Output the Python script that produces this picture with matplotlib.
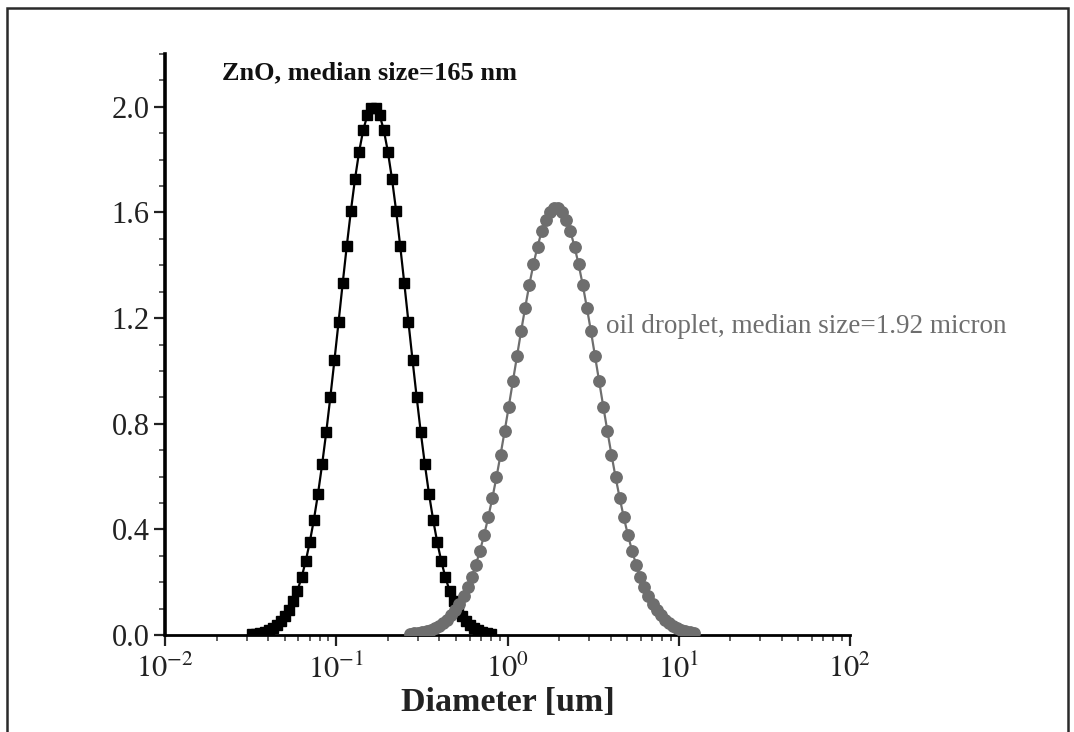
import math
import matplotlib
matplotlib.use('Agg')
import matplotlib.pyplot as plt
from matplotlib.ticker import FixedLocator, MultipleLocator, LogLocator, FuncFormatter, NullFormatter
from matplotlib.patches import Rectangle

# ---------------- data ----------------
zno_diameter_um = [
    0.03232, 0.03416, 0.03610, 0.03815, 0.04032, 0.04261, 0.04503, 0.04759, 0.05029, 0.05315,
    0.05617, 0.05936, 0.06273, 0.06630, 0.07006, 0.07405, 0.07825, 0.08270, 0.08740, 0.09237,
    0.09761, 0.1032, 0.1090, 0.1152, 0.1218, 0.1287, 0.1360, 0.1437, 0.1519, 0.1605,
    0.1696, 0.1793, 0.1895, 0.2002, 0.2116, 0.2236, 0.2363, 0.2497, 0.2639, 0.2789,
    0.2948, 0.3115, 0.3292, 0.3479, 0.3677, 0.3886, 0.4107, 0.4340, 0.4587, 0.4847,
    0.5123, 0.5414, 0.5721, 0.6046, 0.6390, 0.6753, 0.7137, 0.7542, 0.7971]
zno_value = [
    0.0037, 0.0056, 0.0084, 0.0124, 0.0181, 0.0260, 0.0368, 0.0513, 0.0705, 0.0956,
    0.128, 0.168, 0.218, 0.279, 0.352, 0.437, 0.535, 0.646, 0.768, 0.901,
    1.041, 1.186, 1.331, 1.473, 1.607, 1.727, 1.830, 1.912, 1.968, 1.996,
    1.996, 1.968, 1.912, 1.830, 1.727, 1.607, 1.473, 1.331, 1.186, 1.041,
    0.901, 0.768, 0.646, 0.535, 0.437, 0.352, 0.279, 0.218, 0.168, 0.128,
    0.0956, 0.0705, 0.0513, 0.0368, 0.0260, 0.0181, 0.0124, 0.0084, 0.0056]

oil_diameter_um = [
    0.2700, 0.2853, 0.3015, 0.3186, 0.3367, 0.3559, 0.3761, 0.3975, 0.4200, 0.4439,
    0.4691, 0.4958, 0.5240, 0.5537, 0.5852, 0.6184, 0.6536, 0.6907, 0.7300, 0.7714,
    0.8153, 0.8616, 0.9105, 0.9623, 1.0170, 1.0747, 1.1358, 1.2003, 1.2685, 1.3406,
    1.4168, 1.4973, 1.5823, 1.6722, 1.7673, 1.8677,
    1.9738, 2.0859, 2.2045, 2.3298, 2.4620, 2.6020, 2.7499, 2.9060, 3.0711, 3.2456,
    3.4300, 3.6249, 3.8308, 4.0485, 4.2786, 4.5217, 4.7786, 5.0500, 5.3371, 5.6401,
    5.9607, 6.2994, 6.6574, 7.0356, 7.4353, 7.8578, 8.3042, 8.7762, 9.2747, 9.8016,
    10.359, 10.947, 11.570, 12.226]
oil_value = [
    0.0041, 0.0057, 0.0079, 0.0108, 0.0146, 0.0196, 0.0260, 0.0343, 0.0447, 0.0578,
    0.0739, 0.0937, 0.118, 0.146, 0.180, 0.220, 0.266, 0.319, 0.378, 0.445,
    0.518, 0.597, 0.682, 0.772, 0.865, 0.960, 1.055, 1.150, 1.240, 1.326,
    1.403, 1.471, 1.528, 1.573, 1.603, 1.618,
    1.618, 1.603, 1.573, 1.528, 1.471, 1.403, 1.326, 1.240, 1.150, 1.055,
    0.960, 0.865, 0.772, 0.682, 0.597, 0.518, 0.445, 0.378, 0.319, 0.266,
    0.220, 0.180, 0.146, 0.118, 0.0937, 0.0739, 0.0578, 0.0447, 0.0343, 0.0260,
    0.0196, 0.0146, 0.0108, 0.0079]

y_ticks = [0.0, 0.4, 0.8, 1.2, 1.6, 2.0]
x_label = "Diameter [um]"
zno_label = "ZnO, median size=165 nm"
oil_label = "oil droplet, median size=1.92 micron"

# ---------------- figure ----------------
plt.rcParams['font.family'] = ['Liberation Serif', 'DejaVu Serif']
plt.rcParams['mathtext.fontset'] = 'stix'

W, H = 1074, 732
fig = plt.figure(figsize=(W / 100, H / 100), dpi=100)
fig.patch.set_facecolor('white')

# outer frame (left, top, right)
fig.add_artist(Rectangle((6.5 / W, -0.05), (1068 - 6.5) / W, 1.05 - 7.5 / H,
                         transform=fig.transFigure, fill=False,
                         edgecolor='#2a2a2a', lw=1.8))

ax = fig.add_axes([165 / W, 1 - 635 / H, (850 - 165) / W, (635 - 54) / H])
ax.set_facecolor('white')

ax.plot(zno_diameter_um, zno_value, '-', color='black', lw=1.6, zorder=3)
ax.plot(zno_diameter_um, zno_value, 's', color='black', ms=6.5, zorder=3)
ax.plot(oil_diameter_um, oil_value, '-', color='#6e6e6e', lw=1.6, zorder=4)
ax.plot(oil_diameter_um, oil_value, 'o', color='#6e6e6e', ms=8.2, zorder=4)

ax.set_xscale('log')
ax.set_xlim(1e-2, 1e2)
ax.set_ylim(0, 2.2)

for s in ('top', 'right'):
    ax.spines[s].set_visible(False)
ax.spines['left'].set_linewidth(2.6)
ax.spines['bottom'].set_linewidth(2.0)

ax.yaxis.set_major_locator(FixedLocator(y_ticks))
ax.yaxis.set_minor_locator(MultipleLocator(0.1))
ax.yaxis.set_major_formatter(FuncFormatter(lambda v, p: f"{v:.1f}"))

ax.xaxis.set_major_locator(LogLocator(base=10, numticks=10))
ax.xaxis.set_minor_locator(LogLocator(base=10, subs=range(2, 10), numticks=20))
ax.xaxis.set_minor_formatter(NullFormatter())
ax.xaxis.set_major_formatter(FuncFormatter(lambda v, p: r"$10^{%d}$" % round(math.log10(v))))

ax.tick_params(which='major', direction='out', length=8, width=1.6, labelsize=22, colors='#222222')
ax.tick_params(which='minor', direction='out', length=4.5, width=1.2, colors='#444444')
ax.tick_params(axis='y', which='major', pad=3)
ax.tick_params(axis='x', which='major', pad=6)

ax.set_xlabel(x_label, fontsize=24.5, fontweight='bold', labelpad=2, color='#222222')

ax.text(0.0215, 2.13, zno_label, fontsize=19, fontweight='bold', ha='left', va='center',
        color='#111111')
ax.text(3.76, 1.167, oil_label, fontsize=19.5, ha='left', va='center', color='#6e6e6e')

fig.savefig('out.png', dpi=100, facecolor='white')
